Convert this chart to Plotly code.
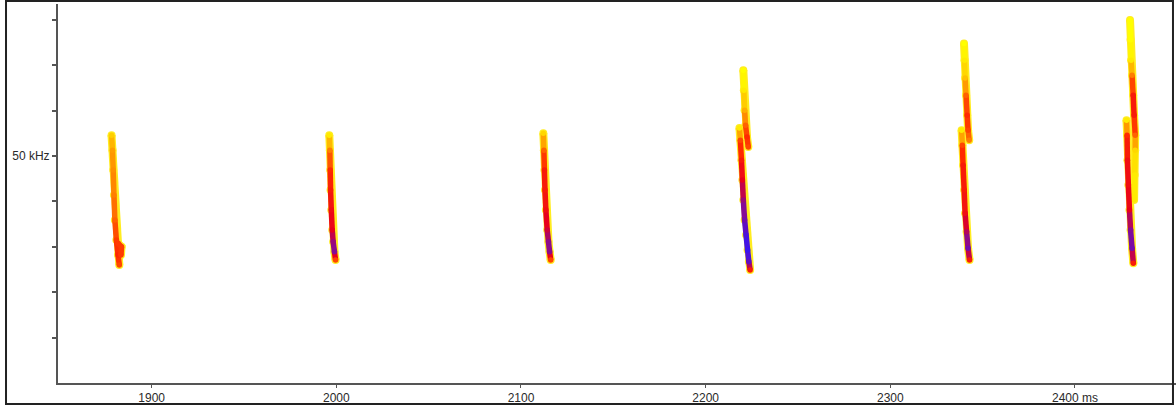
import plotly.graph_objects as go
from plotly.colors import sample_colorscale

# ---- data: bat echolocation calls (time in ms, frequency in kHz, relative level 0..1) ----
call1_t = [1878.3, 1878.8, 1879.2, 1879.6, 1880.1, 1880.9, 1881.8, 1882.5]
call1_f = [54.6, 51.3, 46.9, 41.4, 35.9, 31.5, 28.2, 26.0]
call1_l = [0.12, 0.24, 0.27, 0.3, 0.35, 0.42, 0.46, 0.4]

call1b_t = [1881.8, 1883.7, 1883.4]
call1b_f = [30.8, 30.0, 28.2]
call1b_l = [0.42, 0.42, 0.42]

call2_t = [1996.2, 1996.5, 1996.7, 1996.9, 1997.3, 1997.8, 1998.3, 1999.0, 1999.6]
call2_f = [54.6, 51.3, 46.9, 42.5, 38.1, 33.7, 31.1, 28.9, 27.1]
call2_l = [0.05, 0.3, 0.45, 0.5, 0.55, 0.6, 0.75, 0.8, 0.4]

call3_t = [2112.1, 2112.4, 2112.7, 2113.0, 2113.5, 2114.2, 2114.9, 2115.5, 2116.1]
call3_f = [55.0, 51.3, 46.9, 42.5, 38.1, 33.7, 31.1, 28.9, 27.1]
call3_l = [0.1, 0.35, 0.5, 0.5, 0.55, 0.65, 0.78, 0.78, 0.4]

call4u_t = [2220.4, 2220.7, 2221.1, 2221.6, 2222.4, 2223.1]
call4u_f = [68.9, 64.5, 60.1, 56.8, 54.2, 52.0]
call4u_l = [0.0, 0.05, 0.2, 0.35, 0.45, 0.4]

call4_t = [2218.3, 2218.8, 2219.4, 2219.9, 2220.4, 2221.1, 2221.9, 2222.7, 2223.4, 2224.1]
call4_f = [56.2, 53.5, 49.1, 44.7, 40.3, 35.9, 32.6, 29.3, 26.7, 24.9]
call4_l = [0.05, 0.4, 0.5, 0.6, 0.75, 0.85, 0.95, 1.0, 0.9, 0.5]

call5u_t = [2339.9, 2340.2, 2340.5, 2341.0, 2341.6, 2342.1, 2342.7]
call5u_f = [74.8, 71.1, 67.2, 63.4, 59.0, 55.7, 53.5]
call5u_l = [0.0, 0.05, 0.15, 0.35, 0.45, 0.4, 0.3]

call5_t = [2338.6, 2339.0, 2339.4, 2340.0, 2340.5, 2341.3, 2342.1, 2342.9]
call5_f = [55.7, 52.4, 48.0, 42.5, 37.4, 33.3, 29.7, 27.1]
call5_l = [0.05, 0.4, 0.5, 0.5, 0.55, 0.7, 0.85, 0.5]

call6u_t = [2429.8, 2430.1, 2430.4, 2430.9, 2431.5, 2432.0, 2432.6, 2432.6, 2432.3, 2432.0]
call6u_f = [80.0, 75.6, 71.1, 67.8, 63.4, 59.0, 54.6, 51.3, 45.8, 40.3]
call6u_l = [0.0, 0.0, 0.05, 0.3, 0.5, 0.5, 0.35, 0.1, 0.05, 0.05]

call6_t = [2427.9, 2428.2, 2428.4, 2428.9, 2429.5, 2430.1, 2430.9, 2431.6]
call6_f = [57.9, 54.6, 49.1, 43.6, 38.1, 33.7, 29.7, 26.4]
call6_l = [0.05, 0.45, 0.55, 0.55, 0.6, 0.8, 0.85, 0.5]

pieces = [
    (call1_t, call1_f, call1_l), (call1b_t, call1b_f, call1b_l),
    (call2_t, call2_f, call2_l), (call3_t, call3_f, call3_l),
    (call4u_t, call4u_f, call4u_l), (call4_t, call4_f, call4_l),
    (call5u_t, call5u_f, call5u_l), (call5_t, call5_f, call5_l),
    (call6u_t, call6u_f, call6u_l), (call6_t, call6_f, call6_l),
]

x_ticks = [1900, 2000, 2100, 2200, 2300, 2400]
x_labels = ["1900", "2000", "2100", "2200", "2300", "2400 ms"]
y_ticks = [10, 20, 30, 40, 50, 60, 70, 80]
y_labels = ["", "", "", "", "50 kHz", "", "", ""]

# spectrogram palette: low = yellow, high = blue
cscale = [[0.0, "#ffff00"], [0.25, "#ff9a00"], [0.45, "#ff2a00"], [0.6, "#e8001c"],
          [0.78, "#8c0a8c"], [1.0, "#3a14f0"]]

fig = go.Figure()

# soft yellow halo under every piece
for t, f, l in pieces:
    fig.add_trace(go.Scatter(x=t, y=f, mode="lines+markers",
                             line=dict(color="#ffec20", width=8),
                             marker=dict(color="#ffec20", size=8),
                             hoverinfo="skip", showlegend=False))

# coloured core
for t, f, l in pieces:
    for i in range(len(t) - 1):
        c = sample_colorscale(cscale, [(l[i] + l[i + 1]) / 2])[0]
        fig.add_trace(go.Scatter(x=[t[i], t[i + 1]], y=[f[i], f[i + 1]], mode="lines",
                                 line=dict(color=c, width=5.5),
                                 hoverinfo="skip", showlegend=False))
    fig.add_trace(go.Scatter(x=t, y=f, mode="markers",
                             marker=dict(color=sample_colorscale(cscale, l), size=5.5),
                             hoverinfo="skip", showlegend=False))

axis_color = "#555555"
fig.update_layout(
    width=1176, height=406,
    margin=dict(l=58, r=0, t=4, b=23),
    paper_bgcolor="white", plot_bgcolor="white",
    font=dict(family="Liberation Sans, Arial, sans-serif", size=12, color="#2a2a2a"),
    xaxis=dict(range=[1849.3, 2454.7], tickvals=x_ticks, ticktext=x_labels,
               showgrid=False, zeroline=False, showline=True, linecolor=axis_color,
               linewidth=2, ticks="outside", ticklen=3, tickcolor=axis_color, tickwidth=1),
    yaxis=dict(range=[0, 83.5], tickvals=y_ticks, ticktext=y_labels,
               showgrid=False, zeroline=False, showline=True, linecolor=axis_color,
               linewidth=2, ticks="outside", ticklen=4, tickcolor=axis_color, tickwidth=2),
    shapes=[dict(type="rect", xref="paper", yref="paper",
                 x0=-0.0465, x1=0.9973, y0=-0.0554, y1=1.0079,
                 line=dict(color="#222222", width=2), fillcolor="rgba(0,0,0,0)")],
)

fig.write_html("out.html")
